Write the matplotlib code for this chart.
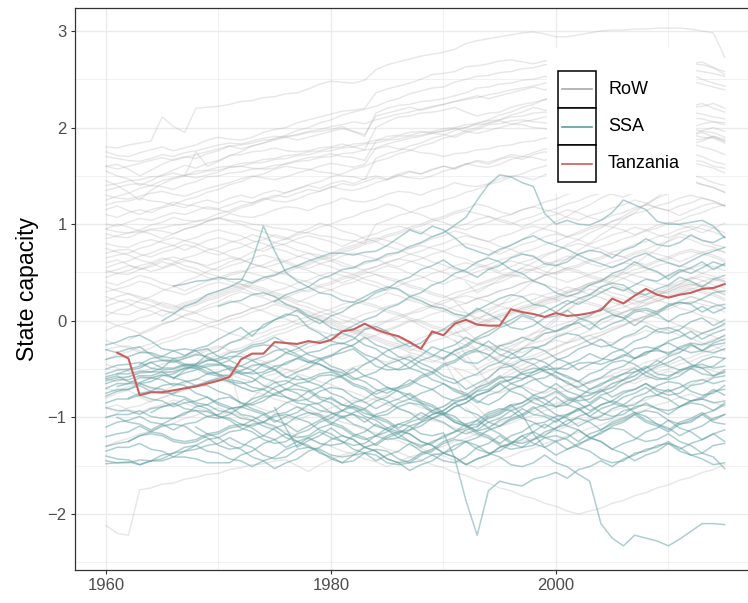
import numpy as np
import matplotlib
matplotlib.use("Agg")
import matplotlib.pyplot as plt
from matplotlib.patches import Rectangle
from matplotlib.lines import Line2D
from matplotlib.ticker import MultipleLocator

plt.rcParams["font.family"] = ["Liberation Sans", "DejaVu Sans"]

# Tanzania, yearly from 1961
TANZANIA_START = 1961
TANZANIA = [-0.33, -0.39, -0.77, -0.74, -0.74, -0.72, -0.70, -0.68, -0.65, -0.62,
            -0.58, -0.40, -0.34, -0.34, -0.22, -0.23, -0.24, -0.21, -0.23, -0.20,
            -0.11, -0.09, -0.03, -0.09, -0.13, -0.16, -0.22, -0.29, -0.11, -0.15,
            -0.03, 0.01, -0.04, -0.05, -0.05, 0.12, 0.09, 0.07, 0.04, 0.08,
            0.05, 0.06, 0.08, 0.11, 0.23, 0.18, 0.26, 0.33, 0.27, 0.24,
            0.27, 0.29, 0.33, 0.34, 0.38]

# Sub-Saharan Africa: (first year, yearly values x100, decades split by "|")
SSA_SERIES = [
    (1960, "-25 -22 -17 -15 -21 -29 -31 -36 -31 -29 | -37 -40 -33 -27 -25 -26 -33 -37 -43 -39 | -36 -33 -29 -38 -47 -51 -50 -43 -36 -27 | -31 -35 -43 -44 -37 -26 -23 -17 -21 -13 | -11 -5 -2 -9 1 6 3 11 13 9 | 17 19 18 23 29 31"),
    (1960, "-50 -46 -45 -43 -49 -51 -50 -46 -46 -49 | -56 -57 -52 -46 -45 -50 -58 -61 -60 -55 | -53 -58 -65 -69 -76 -71 -69 -61 -67 -71 | -79 -83 -81 -72 -67 -59 -58 -60 -56 -51 | -49 -50 -44 -43 -45 -41 -35 -39 -32 -31 | -33 -29 -24 -31 -25 -23"),
    (1960, "-55 -51 -50 -47 -43 -49 -39 -37 -29 -26 | -19 -13 -7 -16 -4 1 7 5 -7 -13 | -21 -24 -19 -9 -6 -11 -21 -27 -23 -14 | -9 -1 4 13 7 1 -7 -9 -5 3 | 5 11 3 -1 -9 -3 1 9 11 7 | -1 6 9 15 8 13"),
    (1960, "-60 -57 -63 -64 -59 -56 -59 -62 -67 -63 | -60 -63 -69 -73 -71 -64 -62 -67 -71 -79 | -81 -87 -89 -96 -99 -97 -89 -85 -87 -95 | -97 -105 -109 -107 -97 -93 -87 -85 -79 -86 | -89 -87 -79 -77 -71 -79 -73 -71 -65 -71 | -73 -69 -63 -61 -65 -62"),
    (1960, "-62 -59 -58 -54 -53 -53 -59 -54 -51 -47 | -46 -47 -53 -55 -53 -47 -45 -39 -43 -45 | -51 -54 -61 -57 -53 -45 -41 -37 -44 -49 | -57 -61 -71 -65 -59 -49 -47 -41 -39 -43 | -51 -45 -41 -34 -39 -41 -37 -29 -27 -29 | -35 -27 -23 -25 -21 -15"),
    (1960, "-70 -65 -65 -59 -59 -61 -67 -63 -61 -55 | -53 -49 -55 -59 -67 -71 -79 -83 -81 -73 | -69 -71 -79 -84 -91 -85 -81 -75 -83 -87 | -95 -99 -109 -114 -111 -103 -99 -91 -97 -99 | -105 -97 -93 -87 -95 -99 -97 -89 -87 -91 | -97 -89 -85 -87 -93 -85"),
    (1960, "-75 -71 -71 -67 -73 -75 -75 -69 -67 -67 | -73 -77 -85 -87 -83 -75 -71 -65 -63 -57 | -56 -59 -67 -71 -79 -83 -91 -95 -103 -97 | -93 -85 -81 -73 -71 -63 -61 -55 -53 -47 | -53 -57 -63 -55 -51 -43 -41 -45 -53 -47 | -43 -37 -45 -49 -47 -39"),
    (1960, "-85 -81 -81 -77 -81 -83 -89 -85 -83 -79 | -85 -89 -97 -99 -105 -109 -117 -121 -119 -111 | -107 -99 -97 -101 -109 -113 -121 -125 -131 -125 | -121 -115 -111 -103 -111 -117 -125 -127 -123 -115 | -111 -103 -101 -105 -113 -107 -103 -97 -105 -109 | -115 -107 -103 -97 -105 -107"),
    (1960, "-90 -93 -93 -97 -91 -89 -85 -91 -93 -99 | -101 -97 -89 -85 -79 -77 -71 -71 -73 -81 | -85 -93 -97 -105 -97 -93 -85 -81 -75 -71 | -65 -71 -75 -83 -87 -81 -71 -67 -61 -59 | -53 -59 -63 -71 -65 -61 -55 -53 -47 -55 | -57 -53 -47 -45 -49 -47"),
    (1960, "-100 -97 -97 -93 -99 -101 -101 -95 -93 -94 | -99 -101 -107 -109 -105 -97 -95 -89 -95 -99 | -107 -111 -119 -123 -119 -111 -107 -109 -117 -119 | -116 -142 -186 -222 -176 -166 -169 -171 -164 -161 | -157 -163 -154 -151 -145 -151 -143 -139 -133 -131 | -125 -133 -127 -123 -117 -125"),
    (1960, "-110 -105 -103 -99 -105 -107 -113 -107 -105 -99 | -97 -91 -89 -93 -97 -105 -99 -95 -87 -85 | -79 -87 -91 -99 -103 -111 -115 -113 -105 -101 | -95 -103 -107 -115 -119 -127 -119 -115 -107 -105 | -99 -97 -91 -99 -103 -101 -93 -91 -85 -91 | -93 -89 -83 -81 -85 -83"),
    (1960, "-120 -117 -115 -109 -115 -117 -123 -125 -123 -117 | -115 -109 -107 -111 -119 -123 -131 -125 -121 -115 | -121 -125 -133 -137 -145 -139 -135 -127 -135 -139 | -145 -147 -141 -131 -127 -119 -127 -131 -129 -121 | -119 -123 -131 -135 -143 -147 -145 -137 -135 -129 | -127 -131 -139 -143 -149 -147"),
    (1960, "-130 -127 -125 -119 -117 -119 -125 -127 -125 -119 | -117 -111 -109 -103 -109 -113 -121 -125 -131 -133 | -139 -141 -139 -131 -127 -119 -115 -117 -125 -129 | -137 -141 -149 -143 -139 -131 -127 -119 -115 -107 | -113 -117 -125 -117 -113 -105 -101 -95 -103 -107 | -113 -105 -101 -95 -103 -97"),
    (1960, "-135 -131 -131 -127 -133 -135 -141 -135 -133 -129 | -127 -121 -127 -131 -139 -143 -141 -133 -131 -135 | -143 -147 -145 -137 -133 -135 -143 -147 -145 -139 | -137 -129 -125 -129 -137 -141 -149 -151 -147 -139 | -147 -151 -159 -166 -210 -225 -233 -222 -225 -228 | -233 -226 -218 -210 -210 -211"),
    (1960, "-140 -143 -144 -149 -145 -143 -137 -135 -129 -135 | -137 -143 -145 -151 -145 -141 -133 -129 -121 -127 | -129 -127 -119 -115 -107 -113 -117 -125 -129 -127 | -119 -115 -107 -103 -95 -91 -93 -101 -105 -111 | -103 -99 -91 -87 -79 -85 -89 -87 -79 -77 | -71 -79 -83 -81 -73 -71"),
    (1960, "-145 -147 -146 -149 -145 -145 -141 -141 -143 -147 | -147 -147 -139 -135 -127 -123 -117 -125 -129 -137 | -141 -147 -139 -137 -139 -147 -149 -147 -139 -135 | -127 -123 -125 -133 -137 -135 -127 -123 -115 -121 | -125 -133 -127 -123 -115 -111 -113 -121 -125 -123 | -117 -125 -129 -137 -141 -153"),
    (1960, "-148 -147 -147 -144 -145 -139 -137 -131 -129 -123 | -121 -115 -113 -107 -105 -99 -97 -101 -105 -113 | -117 -125 -129 -127 -119 -115 -107 -103 -95 -101 | -105 -113 -117 -113 -105 -101 -93 -89 -81 -79 | -73 -81 -85 -93 -87 -83 -75 -71 -65 -73 | -77 -75 -67 -65 -59 -57"),
    (1961, "-55 -51 -49 -43 -41 -41 -47 -49 -55 | -57 -63 -65 -63 -55 -51 -43 -39 -33 -31 | -25 -23 -27 -35 -39 -47 -51 -49 -41 -37 | -29 -25 -17 -23 -27 -35 -39 -37 -29 -25 | -17 -13 -15 -23 -27 -25 -17 -13 -5 -11 | -13 -9 -1 3 -5 1"),
    (1962, "-80 -75 -73 -67 -65 -67 -75 -79 | -87 -91 -89 -81 -77 -69 -65 -57 -63 -67 | -75 -79 -87 -91 -99 -103 -111 -105 -101 -93 | -89 -81 -77 -69 -65 -57 -65 -69 -77 -81 | -89 -83 -79 -71 -67 -59 -55 -49 -57 -61 | -59 -51 -47 -49 -57 -51"),
    (1966, "-60 -51 -45 -35 | -31 -23 -19 -11 -7 1 5 11 3 -3 | 5 9 17 21 29 33 41 45 53 57 | 63 55 51 45 53 57 65 69 67 59 | 57 61 69 73 71 65 73 77 85 79 | 77 81 89 83 81 87"),
    (1966, "36 38 41 42 | 45 43 43 39 45 47 53 57 62 66 | 70 70 68 71 72 78 86 94 90 98 | 94 86 76 72 68 74 78 84 88 82 | 78 74 68 63 59 55 60 66 70 64 | 60 56 62 68 72 76"),
    (1965, "0 7 15 19 27 | 31 35 41 62 98 72 50 41 35 29 | 27 21 19 25 31 35 33 25 21 15 | 13 7 5 11 17 23 27 25 17 15 | 9 17 23 27 35 39 37 29 27 33 | 37 45 41 35 43 47"),
    (1975, "20 27 31 35 43 | 47 53 55 61 63 69 71 77 81 87 | 91 99 107 125 141 151 149 143 139 111 | 100 104 100 99 104 112 125 120 115 103 | 100 100 102 104 98 86"),
    (1961, "-100 -105 -107 -113 -107 -101 -97 -89 -87 | -81 -79 -85 -91 -95 -103 -107 -115 -109 -103 | -97 -93 -85 -81 -73 -69 -73 -77 -85 -89 | -97 -89 -85 -77 -73 -65 -61 -53 -49 -51 | -59 -63 -71 -75 -73 -65 -61 -53 -49 -41 | -47 -51 -49 -41 -37 -39"),
    (1962, "-125 -119 -115 -109 -107 -109 -117 -121 | -129 -133 -131 -123 -119 -111 -107 -99 -95 -97 | -105 -109 -117 -121 -129 -121 -117 -109 -105 -97 | -93 -85 -93 -97 -105 -109 -103 -99 -91 -87 | -79 -87 -91 -99 -91 -87 -79 -75 -69 -77 | -81 -89 -83 -79 -71 -77"),
    (1963, "-45 -39 -37 -31 -29 -31 -39 | -43 -51 -55 -53 -45 -41 -33 -29 -23 -21 | -15 -13 -17 -25 -29 -37 -41 -49 -53 -61 | -65 -73 -77 -85 -77 -73 -65 -61 -53 -49 | -41 -37 -29 -25 -19 -27 -31 -39 -33 -29 | -21 -17 -11 -19 -13 -9"),
    (1964, "-95 -89 -87 -81 -87 -91 | -99 -103 -111 -115 -123 -127 -125 -117 -113 -105 | -101 -93 -89 -93 -101 -105 -113 -117 -125 -129 | -137 -141 -149 -143 -139 -131 -127 -119 -127 -131 | -139 -133 -129 -121 -117 -109 -105 -97 -93 -95 | -103 -107 -105 -97 -93 -87"),
    (1960, "-65 -61 -61 -57 -57 -53 -53 -49 -49 -45 | -45 -41 -47 -51 -59 -63 -71 -75 -83 -87 | -95 -99 -107 -111 -119 -123 -121 -113 -109 -101 | -97 -89 -85 -77 -73 -65 -73 -77 -85 -89 | -97 -101 -109 -103 -99 -91 -87 -79 -75 -67 | -63 -65 -73 -77 -75 -67"),
    (1960, "-58 -55 -55 -52 -53 -49 -49 -45 -45 -41 | -41 -37 -37 -41 -47 -51 -59 -53 -49 -41 | -37 -29 -25 -17 -25 -29 -37 -41 -49 -53 | -61 -65 -59 -55 -47 -43 -35 -29 -27 -31 | -39 -43 -51 -45 -41 -33 -29 -21 -17 -9 | -7 -11 -19 -13 -9 -3"),
    (1968, "-110 -117 | -121 -129 -133 -141 -145 -153 -147 -143 -135 -131 | -123 -119 -123 -131 -135 -143 -147 -155 -149 -145 | -137 -133 -125 -121 -113 -109 -101 -97 -89 -97 | -101 -109 -113 -121 -125 -133 -127 -123 -115 -111 | -103 -111 -115 -123 -117 -113"),
    (1975, "-90 -111 -131 -124 -119 | -111 -119 -123 -131 -135 -143 -147 -145 -137 -133 | -125 -121 -113 -109 -101 -97 -89 -85 -77 -73 | -65 -73 -77 -85 -77 -73 -65 -61 -53 -59 | -61 -57 -49 -55 -57 -53"),
    (1990, "-40 -31 -27 -19 -15 -7 -3 5 1 -7 | -11 -7 1 5 13 7 3 -5 3 7 | 15 19 17 9 15 17"),
    (1993, "-110 -99 -95 -87 -97 -117 -131 | -125 -121 -113 -121 -125 -133 -137 -145 -139 -135 | -127 -135 -139 -137 -129 -127"),
    (1960, "-78 -73 -71 -65 -63 -57 -55 -49 -47 -41 | -39 -33 -31 -25 -23 -17 -23 -27 -35 -39 | -47 -51 -59 -63 -71 -75 -69 -65 -57 -53 | -45 -41 -33 -29 -21 -29 -33 -41 -45 -53 | -57 -65 -69 -63 -59 -51 -47 -39 -35 -27 | -23 -29 -33 -31 -23 -19"),
    (1961, "-68 -65 -65 -69 -71 -77 -79 -85 -87 | -93 -95 -101 -103 -97 -93 -85 -81 -73 -69 | -61 -57 -49 -57 -61 -69 -73 -81 -85 -93 | -97 -105 -109 -117 -121 -129 -133 -131 -123 -119 | -111 -107 -99 -95 -87 -83 -87 -95 -99 -107 | -111 -119 -113 -109 -101 -97"),
    (1970, "15 19 21 27 29 25 17 13 5 1 | -7 -11 -5 1 5 13 17 25 29 37 | 41 49 53 61 65 61 53 49 41 37 | 29 25 29 37 41 49 53 61 55 51 | 43 51 55 61 53 59"),
    (1960, "-40 -37 -37 -33 -33 -37 -39 -45 -47 -53 | -55 -61 -63 -69 -71 -77 -79 -85 -87 -93 | -95 -101 -95 -91 -83 -79 -71 -67 -59 -55 | -47 -43 -35 -31 -35 -43 -47 -55 -59 -67 | -71 -79 -83 -81 -73 -69 -61 -57 -49 -45 | -37 -33 -25 -31 -33 -29"),
    (1960, "-30 -33 -29 -27 -35 -41 -43 -39 -35 -37 | -43 -49 -47 -41 -37 -31 -29 -35 -41 -45 | -51 -57 -53 -45 -39 -31 -27 -23 -29 -35 | -39 -31 -25 -17 -11 -5 1 7 3 9 | 15 21 17 23 29 35 31 37 43 41 | 47 53 49 55 61 57"),
]

# Rest of the world: same layout
ROW_SERIES = [
    (1960, "180 179 182 184 186 211 201 195 220 221 | 222 224 227 228 231 232 235 236 240 245 | 248 247 246 249 260 265 268 271 274 276 | 278 281 287 290 292 294 296 298 299 297 | 294 294 296 298 300 301 301 302 302 303 | 303 303 302 300 298 273"),
    (1960, "175 171 170 174 177 180 176 179 182 187 | 190 188 187 190 195 198 200 205 208 211 | 214 217 218 220 236 240 243 246 250 255 | 256 258 263 264 266 269 270 268 266 269 | 270 273 274 276 279 276 274 273 270 268 | 266 265 266 268 262 258"),
    (1960, "160 162 157 150 156 162 167 170 168 173 | 176 181 182 184 187 188 191 192 195 196 | 198 201 196 191 215 220 223 224 227 228 | 230 233 236 241 242 245 246 249 250 253 | 250 248 247 244 243 240 243 244 247 248 | 250 252 255 250 246 243"),
    (1960, "155 150 147 140 145 151 156 161 158 163 | 166 171 172 175 176 179 176 175 176 179 | 180 183 180 177 200 206 211 212 215 216 | 218 221 216 212 215 216 221 224 226 229 | 230 233 234 232 231 228 227 224 223 220 | 218 221 222 225 220 216"),
    (1960, "145 140 133 125 135 142 147 150 155 156 | 159 160 163 164 167 168 171 172 175 176 | 179 180 183 184 187 188 191 192 195 196 | 199 200 203 204 207 208 211 212 215 216 | 214 213 210 209 206 205 206 209 210 213 | 214 213 210 209 206 205"),
    (1960, "140 142 145 146 149 150 153 150 148 151 | 154 159 160 158 157 158 163 166 169 170 | 173 170 169 166 186 191 192 195 196 194 | 193 190 195 198 203 204 207 208 206 205 | 202 201 198 197 198 201 202 205 206 204 | 203 200 199 196 195 190"),
    (1960, "135 138 141 142 140 139 136 141 144 149 | 150 153 154 157 158 161 162 165 166 169 | 170 173 174 177 178 181 178 177 174 173 | 170 173 174 177 178 181 182 185 186 189 | 190 193 194 197 198 200 199 196 195 192 | 191 188 187 188 191 186"),
    (1960, "125 129 132 137 140 145 148 151 152 155 | 156 159 160 163 164 167 168 171 172 175 | 176 179 180 183 184 187 188 191 192 195 | 196 199 200 203 204 207 204 203 200 199 | 196 195 192 191 188 187 184 183 184 187 | 188 191 192 195 190 186"),
    (1960, "120 123 124 127 124 123 120 125 128 133 | 136 141 144 149 152 157 160 158 157 154 | 153 150 149 146 168 173 176 181 184 189 | 192 197 200 205 208 213 216 221 224 229 | 232 237 240 238 237 234 233 230 229 226 | 225 222 221 222 225 220"),
    (1960, "115 119 114 110 115 118 123 120 119 116 | 115 112 117 120 125 128 133 136 141 144 | 149 152 157 160 165 168 173 176 181 184 | 189 192 197 200 205 208 213 216 221 218 | 217 214 213 210 209 206 205 202 201 198 | 197 194 193 190 189 184"),
    (1960, "100 98 102 106 104 108 112 110 114 118 | 116 120 124 122 126 130 128 132 136 134 | 138 142 140 144 148 146 150 154 152 156 | 160 158 162 166 164 168 172 170 174 178 | 176 180 184 182 186 190 188 192 196 194 | 198 202 200 204 206 203"),
    (1967, "150 175 160 | 165 171 175 181 184 189 192 197 200 205 | 208 213 216 219 222 227 230 235 238 241 | 242 247 250 253 254 257 258 261 262 265 | 266 265 262 261 258 257 258 261 262 265 | 266 269 266 265 262 255"),
    (1960, "95 92 91 94 99 102 107 104 103 106 | 111 114 119 122 127 124 123 126 131 134 | 139 136 135 138 143 146 151 148 147 150 | 155 158 163 160 159 162 167 170 169 166 | 171 174 179 176 175 178 183 180 179 176 | 175 178 183 180 177 172"),
    (1960, "90 87 86 91 94 93 90 95 98 103 | 106 111 108 107 110 115 118 117 114 119 | 122 127 124 123 126 131 134 133 130 135 | 138 143 140 139 142 147 150 149 146 151 | 154 159 156 155 158 163 166 165 162 161 | 158 163 166 165 160 158"),
    (1960, "170 168 166 165 168 172 170 174 176 179 | 182 184 183 186 189 191 190 193 196 198 | 201 203 206 204 208 211 214 216 219 222 | 224 227 229 231 234 236 239 241 243 246 | 248 251 253 254 256 258 257 255 256 259 | 261 262 260 258 256 253"),
    (1960, "130 127 126 129 132 134 131 129 133 137 | 140 143 147 150 148 146 149 153 156 160 | 163 161 159 162 179 183 186 189 191 194 | 197 199 196 194 197 200 203 206 208 211 | 213 211 208 206 209 212 214 216 214 212 | 210 213 216 214 211 209"),
    (1960, "80 77 76 81 84 81 78 73 78 83 | 86 83 80 75 72 77 80 85 88 85 | 82 77 82 87 90 95 98 95 92 87 | 92 97 100 105 108 105 102 97 102 107 | 110 115 112 107 104 109 112 117 120 117 | 114 109 114 119 122 119"),
    (1960, "70 73 74 69 66 71 74 79 76 71 | 68 73 76 81 84 89 86 81 78 73 | 70 75 78 83 86 83 80 75 80 85 | 88 93 90 85 82 87 90 95 98 95 | 92 87 92 97 100 97 94 89 94 99 | 102 99 96 91 96 101"),
    (1960, "60 63 58 53 58 63 66 63 60 55 | 52 57 60 65 68 65 62 57 54 59 | 62 67 70 67 64 59 56 61 64 69 | 72 77 80 77 74 69 74 79 82 87 | 90 87 84 79 84 89 92 97 94 89 | 86 91 94 99 96 91"),
    (1960, "52 49 48 53 56 61 58 53 50 45 | 42 47 50 55 58 63 60 55 52 47 | 44 39 44 49 52 57 54 49 46 41 | 38 43 46 51 54 59 62 59 56 51 | 48 53 56 61 64 69 66 61 58 63 | 66 71 74 71 68 63"),
    (1960, "50 53 57 55 51 54 58 62 60 57 | 61 65 63 59 55 58 62 66 70 68 | 64 60 56 52 56 60 64 62 58 54 | 50 46 42 38 42 46 50 54 52 48 | 44 40 44 48 52 56 60 58 54 50 | 46 50 54 58 56 52"),
    (1960, "40 37 42 47 44 39 36 31 36 41 | 44 49 52 49 46 41 38 33 30 35 | 38 43 46 51 48 43 40 35 32 27 | 24 29 32 37 40 45 48 45 42 37 | 34 29 34 39 42 47 50 47 44 39 | 36 41 44 49 46 41"),
    (1960, "30 33 36 41 38 33 30 27 32 37 | 40 37 34 29 26 31 34 39 42 47 | 50 47 44 39 36 31 36 41 44 49 | 52 57 60 57 54 49 46 51 54 59 | 62 67 64 59 56 61 64 69 72 69 | 66 61 66 71 74 71"),
    (1960, "20 25 28 25 22 17 14 19 22 27 | 30 35 38 35 32 27 24 19 24 29 | 32 37 40 45 48 45 42 37 34 29 | 26 21 18 23 26 31 34 39 42 47 | 50 55 52 47 44 39 44 49 52 57 | 60 57 54 49 54 59"),
    (1960, "10 7 6 11 14 19 16 11 8 3 | 0 5 8 13 16 21 18 13 10 5 | 2 -3 2 7 10 15 18 23 20 15 | 12 7 4 9 12 17 20 25 28 25 | 22 17 22 27 30 35 32 27 24 29 | 32 37 40 37 34 29"),
    (1960, "0 -5 -8 -13 -8 -3 0 5 8 13 | 16 21 18 13 10 5 2 -3 -6 -11 | -14 -19 -14 -9 -6 -1 2 7 10 15 | 18 23 26 23 20 15 12 7 12 17 | 20 25 28 33 30 25 22 17 22 27 | 30 35 38 35 32 27"),
    (1960, "95 100 97 93 90 85 90 95 98 103 | 106 103 100 95 92 87 84 89 92 97 | 100 105 108 113 116 121 118 113 110 105 | 102 97 94 99 102 107 110 115 118 115 | 112 107 104 109 112 117 120 125 122 117 | 114 119 122 127 124 119"),
    (1960, "75 71 68 63 60 55 60 65 68 73 | 76 81 84 89 86 81 78 73 70 65 | 62 57 54 59 62 67 70 75 78 75 | 72 67 64 59 56 51 56 61 64 69 | 72 77 80 77 74 69 66 71 74 79 | 82 87 84 79 76 71"),
    (1960, "65 68 70 75 78 83 86 83 80 75 | 72 67 64 59 56 51 48 43 40 35 | 32 27 24 19 16 11 8 3 0 -5 | -8 -13 -8 -3 0 5 8 13 16 21 | 24 29 32 37 34 29 26 21 18 23 | 26 31 34 31 28 23"),
    (1960, "45 49 52 57 60 65 62 57 54 49 | 46 41 38 33 30 25 22 17 14 9 | 6 1 -2 -7 -10 -15 -18 -23 -18 -13 | -10 -5 -2 3 6 11 14 19 22 27 | 30 35 32 27 24 19 16 11 8 3 | 0 -5 -8 -13 -16 -21"),
    (1960, "35 31 28 23 20 15 12 17 20 25 | 28 33 36 41 44 49 52 57 60 65 | 68 73 76 81 84 89 92 97 100 105 | 108 113 116 121 118 113 110 115 118 123 | 126 131 134 139 136 131 128 133 136 141 | 144 149 146 141 138 133"),
    (1960, "25 21 18 13 10 5 10 15 18 23 | 26 31 34 39 42 47 50 55 58 63 | 66 71 74 79 82 87 90 95 98 103 | 106 111 114 111 108 103 100 105 108 113 | 116 121 124 129 132 137 140 145 148 153 | 156 161 164 161 158 153"),
    (1960, "-10 -5 -2 3 6 11 8 3 0 -5 | -8 -13 -16 -21 -16 -11 -8 -3 0 5 | 8 13 16 21 24 29 26 21 18 13 | 10 5 2 -3 2 7 10 15 18 23 | 26 31 34 39 42 47 44 39 36 31 | 28 33 36 41 44 41"),
    (1960, "-20 -25 -28 -33 -28 -23 -20 -15 -12 -7 | -4 1 4 9 12 17 14 9 6 1 | -2 -7 -10 -15 -18 -23 -26 -31 -26 -21 | -18 -13 -10 -5 -2 3 6 11 14 19 | 22 27 24 19 16 11 8 13 16 21 | 24 29 32 29 26 21"),
    (1960, "-30 -27 -26 -31 -34 -39 -42 -39 -36 -31 | -28 -23 -20 -15 -12 -7 -4 1 4 9 | 12 17 20 17 14 9 6 1 -2 -7 | -10 -15 -18 -23 -26 -31 -26 -21 -18 -13 | -10 -5 -2 3 6 11 14 19 22 27 | 30 35 38 35 32 27"),
    (1960, "-45 -49 -52 -57 -60 -55 -52 -47 -44 -39 | -36 -31 -28 -23 -20 -15 -12 -7 -4 1 | -4 -9 -12 -17 -20 -25 -28 -33 -36 -41 | -44 -49 -52 -57 -52 -47 -44 -39 -36 -31 | -28 -23 -20 -15 -12 -7 -4 1 4 9 | 12 17 20 17 14 9"),
    (1960, "-60 -63 -58 -53 -50 -45 -42 -37 -34 -29 | -26 -31 -34 -39 -42 -47 -50 -55 -58 -63 | -66 -71 -74 -79 -82 -87 -90 -95 -98 -103 | -106 -111 -114 -119 -122 -127 -130 -125 -122 -117 | -114 -109 -106 -101 -98 -93 -90 -85 -82 -77 | -74 -69 -66 -61 -58 -53"),
    (1960, "-80 -75 -72 -79 -84 -79 -76 -71 -68 -63 | -60 -65 -68 -73 -76 -81 -84 -89 -92 -97 | -100 -105 -108 -113 -116 -121 -124 -129 -132 -137 | -140 -145 -148 -153 -148 -143 -140 -135 -132 -127 | -124 -119 -116 -111 -108 -103 -100 -95 -92 -87 | -84 -79 -76 -81 -84 -89"),
    (1960, "-100 -96 -90 -88 -83 -80 -75 -72 -67 -64 | -59 -56 -51 -48 -43 -40 -35 -32 -27 -24 | -19 -16 -11 -8 -3 0 5 8 13 16 | 21 24 29 32 37 40 45 48 53 56 | 61 64 69 72 77 80 85 88 93 96 | 101 104 109 112 117 120"),
    (1960, "-212 -220 -222 -175 -173 -169 -168 -164 -162 -159 | -158 -154 -152 -149 -148 -145 -144 -150 -156 -149 | -144 -139 -136 -131 -128 -133 -136 -141 -144 -149 | -152 -157 -160 -165 -168 -173 -176 -181 -184 -189 | -192 -197 -200 -197 -194 -189 -186 -181 -178 -173 | -170 -165 -162 -157 -154 -149"),
    (1960, "-130 -125 -122 -117 -114 -109 -106 -101 -98 -93 | -90 -95 -98 -103 -106 -111 -114 -119 -122 -127 | -130 -135 -138 -143 -146 -151 -146 -141 -138 -133 | -130 -125 -122 -117 -114 -109 -106 -101 -98 -93 | -90 -85 -82 -77 -74 -69 -66 -61 -58 -53 | -50 -45 -42 -37 -34 -29"),
    (1960, "15 19 22 19 16 11 8 13 16 21 | 24 29 32 37 34 29 26 21 18 13 | 10 5 2 -3 -6 -11 -6 -1 2 7 | 10 15 18 23 26 31 34 39 42 47 | 50 55 58 63 66 71 74 79 82 87 | 90 95 98 95 92 87"),
    (1960, "85 88 91 92 95 96 99 100 103 104 | 107 104 103 100 99 96 95 92 91 88 | 87 84 83 80 100 104 109 112 117 120 | 125 128 133 136 141 144 149 152 157 160 | 165 168 173 176 181 184 189 186 183 178 | 175 178 183 186 191 188"),
    (1960, "55 59 62 67 70 75 78 83 86 91 | 94 91 88 83 80 75 72 67 64 59 | 56 51 48 43 40 35 32 27 24 19 | 16 11 8 3 0 5 8 13 16 21 | 24 29 32 37 40 45 48 53 56 61 | 64 69 72 69 66 61"),
    (1960, "5 11 15 21 25 31 35 41 45 51 | 55 61 65 71 75 81 85 91 95 101 | 98 93 90 85 82 77 74 69 66 61 | 58 53 50 55 58 63 66 71 74 79 | 82 87 90 95 98 103 106 111 114 119 | 122 127 130 127 124 119"),
    (1960, "-40 -35 -32 -27 -24 -19 -16 -11 -8 -3 | 0 5 8 13 16 21 24 29 32 37 | 40 45 48 53 56 61 64 69 72 77 | 80 85 88 85 82 77 74 69 66 61 | 58 53 50 45 42 37 34 29 26 21 | 18 13 10 5 2 -3"),
    (1991, "-30 -41 -50 -44 -38 -29 -22 -13 -6 | 3 10 19 26 35 42 51 58 67 74 | 83 90 87 84 79 76"),
    (1991, "-50 -61 -70 -63 -58 -51 -46 -39 -34 | -27 -22 -15 -10 -3 2 9 14 21 26 | 33 38 45 42 37 34"),
    (1991, "20 9 0 9 16 25 32 41 48 | 57 64 73 80 89 96 105 112 121 128 | 137 144 151 148 143 140"),
    (1991, "0 -11 -20 -31 -26 -21 -18 -13 -10 | -5 -2 3 6 11 14 19 22 27 30 | 35 38 43 46 43 40"),
    (1991, "-70 -81 -90 -101 -96 -91 -88 -83 -80 | -75 -72 -67 -64 -59 -56 -51 -48 -43 -40 | -35 -32 -27 -24 -19 -16"),
    (1991, "-10 -21 -30 -41 -36 -31 -28 -23 -20 | -15 -12 -7 -4 1 4 9 12 17 20 | 25 28 33 36 41 44"),
    (1992, "40 29 36 43 48 55 60 67 | 72 79 84 91 96 103 108 115 120 127 | 132 139 144 141 138 133"),
    (1992, "-90 -101 -110 -105 -102 -97 -94 -89 | -86 -81 -78 -73 -70 -65 -62 -57 -54 -49 | -46 -41 -38 -33 -30 -25"),
    (1993, "60 67 72 79 84 91 96 | 103 108 115 120 127 132 139 144 151 156 | 163 168 173 170 165 162"),
    (1991, "-20 -35 -50 -65 -60 -55 -50 -45 -40 | -35 -30 -25 -20 -15 -10 -5 0 5 10 | 15 20 25 22 18 14"),
    (1971, "-50 -91 -80 -69 -60 -54 -50 -44 -40 | -35 -29 -25 -19 -15 -9 -5 1 -5 -11 | -15 -21 -25 -31 -35 -41 -45 -51 -45 -39 | -35 -29 -25 -19 -15 -9 -5 1 5 11 | 15 21 25 21 18 13"),
    (1962, "-20 -14 -10 -4 0 6 10 16 | 20 26 30 27 24 19 16 11 8 3 | 0 -5 -8 -13 -16 -21 -24 -29 -32 -37 | -40 -61 -80 -69 -60 -49 -40 -29 -20 -9 | 0 11 20 17 14 9 6 1 -2 -7 | -10 -15 -18 -23 -26 -31"),
    (1960, "110 107 112 115 112 117 120 117 122 125 | 122 127 130 127 132 135 132 137 140 137 | 142 145 142 147 150 147 152 155 152 157 | 160 157 162 165 162 167 170 167 172 175 | 172 177 180 177 182 185 182 187 190 187 | 192 195 192 197 200 196"),
    (1960, "-70 -73 -68 -65 -70 -73 -68 -65 -60 -63 | -58 -55 -60 -63 -58 -55 -50 -53 -48 -45 | -50 -53 -48 -45 -40 -43 -38 -35 -40 -43 | -38 -35 -30 -33 -28 -25 -30 -33 -28 -25 | -20 -23 -18 -15 -20 -23 -18 -15 -10 -13 | -8 -5 -10 -13 -8 -5"),
    (1960, "-90 -87 -92 -95 -90 -87 -82 -85 -90 -93 | -98 -95 -90 -87 -92 -95 -100 -103 -98 -95 | -90 -87 -82 -85 -80 -77 -82 -85 -90 -93 | -88 -85 -80 -77 -72 -75 -70 -67 -72 -75 | -70 -67 -62 -65 -60 -57 -62 -65 -60 -57 | -52 -55 -50 -47 -52 -55"),
    (1960, "160 157 160 163 166 169 166 169 172 175 | 178 181 178 181 184 187 190 187 190 193 | 196 199 196 193 212 215 218 221 218 221 | 224 227 230 233 230 233 236 239 242 239 | 242 245 248 245 242 245 248 251 248 245 | 242 245 248 245 242 239"),
]

LEGEND_LABELS = ["RoW", "SSA", "Tanzania"]
GROUP_COLORS = ["#A9A9A9", "#5F9EA0", "#CD5C5C"]
X_TICKS = [1960, 1980, 2000]
Y_TICKS = [-2, -1, 0, 1, 2, 3]


def series(start, text):
    values = np.array(text.replace("|", " ").split(), dtype=float) / 100.0
    return start + np.arange(len(values)), values


W, H = 748, 603
fig = plt.figure(figsize=(W / 100, H / 100), dpi=100)
ax = fig.add_axes([75 / W, 1 - 570 / H, 680.6 / W, (570 - 8.3) / H])

for start, text in ROW_SERIES:
    x, y = series(start, text)
    ax.plot(x, y, color=GROUP_COLORS[0], alpha=0.28, lw=1.0, zorder=2)
for start, text in SSA_SERIES:
    x, y = series(start, text)
    ax.plot(x, y, color=GROUP_COLORS[1], alpha=0.5, lw=1.1, zorder=3)
tz_years = TANZANIA_START + np.arange(len(TANZANIA))
ax.plot(tz_years, TANZANIA, color=GROUP_COLORS[2], lw=1.5, zorder=4)

ax.set_xlim(1957.25, 2017.75)
ax.set_ylim(-2.58, 3.235)
ax.set_xticks(X_TICKS)
ax.set_yticks(Y_TICKS)
ax.xaxis.set_minor_locator(MultipleLocator(10))
ax.yaxis.set_minor_locator(MultipleLocator(0.5))
ax.grid(which="major", color="#EBEBEB", lw=1.0)
ax.grid(which="minor", color="#EBEBEB", lw=0.5)
ax.set_axisbelow(True)
ax.tick_params(which="minor", length=0)
ax.tick_params(which="major", length=3, width=0.8, color="#333333",
               labelcolor="#4D4D4D", labelsize=12, pad=3)
for side in ax.spines.values():
    side.set_color("#333333")
    side.set_linewidth(0.9)
ax.set_ylabel("State capacity", fontsize=16.5, labelpad=6)

# legend panel
fig.add_artist(Rectangle((547 / W, 1 - 194 / H), 149 / W, 146 / H,
                         transform=fig.transFigure, facecolor="white",
                         edgecolor="none", zorder=5))
key_top, key_h = 70.7, 37.2
for i, (label, color) in enumerate(zip(LEGEND_LABELS, GROUP_COLORS)):
    top = key_top + i * key_h
    fig.add_artist(Rectangle((558 / W, 1 - (top + key_h) / H), 38 / W, key_h / H,
                             transform=fig.transFigure, facecolor="white",
                             edgecolor="black", lw=1.1, zorder=6))
    yc = 1 - (top + key_h / 2) / H
    fig.add_artist(Line2D([562 / W, 592 / W], [yc, yc], transform=fig.transFigure,
                          color=color, lw=1.2, zorder=7))
    fig.text(608 / W, yc, label, ha="left", va="center", fontsize=13, zorder=7)

fig.savefig("out.png", dpi=100)
